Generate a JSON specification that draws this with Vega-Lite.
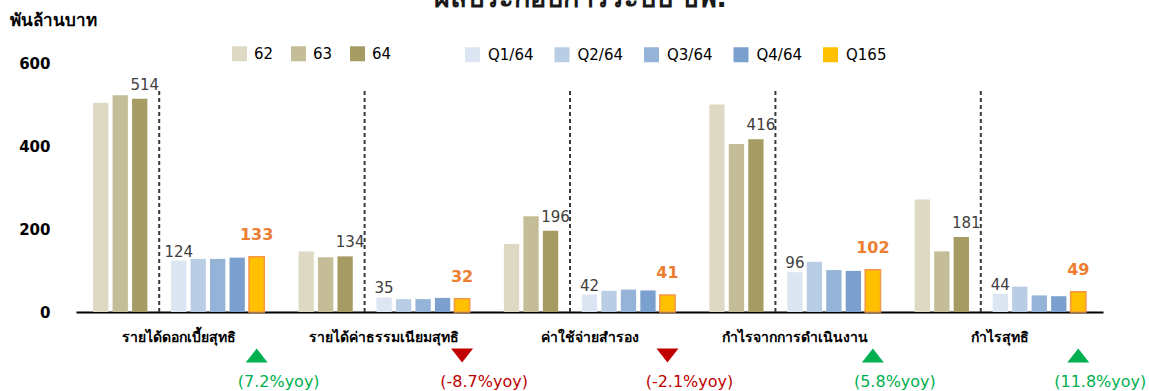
{
  "$schema": "https://vega.github.io/schema/vega-lite/v6.json",
  "width": 1027,
  "height": 249,
  "autosize": {"type": "none"},
  "padding": {"left": 76, "top": 63, "right": 46, "bottom": 79},
  "background": "white",
  "config": {
    "view": {"stroke": null},
    "font": "Tahoma, DejaVu Sans, sans-serif",
    "text": {"font": "Tahoma, DejaVu Sans, sans-serif"}
  },
  "title": {
    "text": "ผลประกอบการระบบ ธพ.",
    "anchor": "middle",
    "fontSize": 27,
    "fontWeight": "bold",
    "color": "#1a1a1a",
    "offset": 2,
    "dx": -9,
    "dy": 4
  },
  "datasets": {
    "finance": [
      {"item": "รายได้ดอกเบี้ยสุทธิ", "period": "62", "value": 504},
      {"item": "รายได้ดอกเบี้ยสุทธิ", "period": "63", "value": 522},
      {"item": "รายได้ดอกเบี้ยสุทธิ", "period": "64", "value": 514},
      {"item": "รายได้ดอกเบี้ยสุทธิ", "period": "Q1/64", "value": 124},
      {"item": "รายได้ดอกเบี้ยสุทธิ", "period": "Q2/64", "value": 128},
      {"item": "รายได้ดอกเบี้ยสุทธิ", "period": "Q3/64", "value": 128},
      {"item": "รายได้ดอกเบี้ยสุทธิ", "period": "Q4/64", "value": 131},
      {"item": "รายได้ดอกเบี้ยสุทธิ", "period": "Q165", "value": 133},
      {"item": "รายได้ค่าธรรมเนียมสุทธิ", "period": "62", "value": 146},
      {"item": "รายได้ค่าธรรมเนียมสุทธิ", "period": "63", "value": 132},
      {"item": "รายได้ค่าธรรมเนียมสุทธิ", "period": "64", "value": 134},
      {"item": "รายได้ค่าธรรมเนียมสุทธิ", "period": "Q1/64", "value": 35},
      {"item": "รายได้ค่าธรรมเนียมสุทธิ", "period": "Q2/64", "value": 31},
      {"item": "รายได้ค่าธรรมเนียมสุทธิ", "period": "Q3/64", "value": 31},
      {"item": "รายได้ค่าธรรมเนียมสุทธิ", "period": "Q4/64", "value": 34},
      {"item": "รายได้ค่าธรรมเนียมสุทธิ", "period": "Q165", "value": 32},
      {"item": "ค่าใช้จ่ายสำรอง", "period": "62", "value": 164},
      {"item": "ค่าใช้จ่ายสำรอง", "period": "63", "value": 231},
      {"item": "ค่าใช้จ่ายสำรอง", "period": "64", "value": 196},
      {"item": "ค่าใช้จ่ายสำรอง", "period": "Q1/64", "value": 42},
      {"item": "ค่าใช้จ่ายสำรอง", "period": "Q2/64", "value": 51},
      {"item": "ค่าใช้จ่ายสำรอง", "period": "Q3/64", "value": 54},
      {"item": "ค่าใช้จ่ายสำรอง", "period": "Q4/64", "value": 52},
      {"item": "ค่าใช้จ่ายสำรอง", "period": "Q165", "value": 41},
      {"item": "กำไรจากการดำเนินงาน", "period": "62", "value": 500},
      {"item": "กำไรจากการดำเนินงาน", "period": "63", "value": 405},
      {"item": "กำไรจากการดำเนินงาน", "period": "64", "value": 416},
      {"item": "กำไรจากการดำเนินงาน", "period": "Q1/64", "value": 96},
      {"item": "กำไรจากการดำเนินงาน", "period": "Q2/64", "value": 121},
      {"item": "กำไรจากการดำเนินงาน", "period": "Q3/64", "value": 101},
      {"item": "กำไรจากการดำเนินงาน", "period": "Q4/64", "value": 99},
      {"item": "กำไรจากการดำเนินงาน", "period": "Q165", "value": 102},
      {"item": "กำไรสุทธิ", "period": "62", "value": 271},
      {"item": "กำไรสุทธิ", "period": "63", "value": 146},
      {"item": "กำไรสุทธิ", "period": "64", "value": 181},
      {"item": "กำไรสุทธิ", "period": "Q1/64", "value": 44},
      {"item": "กำไรสุทธิ", "period": "Q2/64", "value": 61},
      {"item": "กำไรสุทธิ", "period": "Q3/64", "value": 40},
      {"item": "กำไรสุทธิ", "period": "Q4/64", "value": 38},
      {"item": "กำไรสุทธิ", "period": "Q165", "value": 49}
    ],
    "growth": [
      {"item": "รายได้ดอกเบี้ยสุทธิ", "yoy": 7.2, "label": "(7.2%yoy)"},
      {"item": "รายได้ค่าธรรมเนียมสุทธิ", "yoy": -8.7, "label": "(-8.7%yoy)"},
      {"item": "ค่าใช้จ่ายสำรอง", "yoy": -2.1, "label": "(-2.1%yoy)"},
      {"item": "กำไรจากการดำเนินงาน", "yoy": 5.8, "label": "(5.8%yoy)"},
      {"item": "กำไรสุทธิ", "yoy": 11.8, "label": "(11.8%yoy)"}
    ]
  },
  "data": {"name": "finance"},
  "layer": [
    {
      "transform": [{"filter": {"field": "period", "oneOf": ["62", "63", "64"]}}],
      "mark": {"type": "bar"},
      "encoding": {
        "x": {
          "field": "item", "type": "nominal", "sort": null,
          "scale": {"paddingInner": 0.1664, "paddingOuter": 0.0832},
          "axis": {
            "title": null, "labelAngle": 0, "ticks": false,
            "domainColor": "#000000", "domainWidth": 2,
            "labelFontSize": 14, "labelFontWeight": "bold", "labelColor": "#000000",
            "labelPadding": 18, "labelBaseline": "top"
          }
        },
        "xOffset": {
          "field": "period", "type": "nominal",
          "scale": {"domain": ["62", "63", "64", "sep", "Q1/64", "Q2/64", "Q3/64", "Q4/64", "Q165"], "paddingInner": 0.215, "paddingOuter": 0}
        },
        "y": {
          "field": "value", "type": "quantitative",
          "scale": {"domain": [0, 600], "nice": false},
          "axis": {
            "values": [0, 200, 400, 600], "domain": false, "ticks": false, "grid": false,
            "labelFontSize": 15, "labelFontWeight": "bold", "labelColor": "#000000", "labelPadding": 26,
            "title": "พันล้านบาท", "titleAngle": 0, "titleAlign": "left", "titleBaseline": "alphabetic",
            "titleX": -67, "titleY": -38, "titleFontSize": 17, "titleFontWeight": "bold", "titleColor": "#000000"
          }
        },
        "color": {
          "field": "period", "type": "nominal",
          "scale": {"domain": ["62", "63", "64"], "range": ["#DDD9C3", "#C4BD97", "#A69B63"]},
          "legend": {
            "title": null, "orient": "none", "direction": "horizontal",
            "legendX": 156, "legendY": -17,
            "symbolType": "square", "symbolSize": 225, "symbolStrokeWidth": 0,
            "labelFontSize": 15, "labelColor": "#000000", "labelOffset": 7, "columnPadding": 17
          }
        }
      }
    },
    {
      "transform": [{"filter": {"field": "period", "oneOf": ["Q1/64", "Q2/64", "Q3/64", "Q4/64", "Q165"]}}],
      "mark": {"type": "bar", "strokeWidth": 1.5},
      "encoding": {
        "x": {"field": "item", "type": "nominal", "sort": null},
        "xOffset": {"field": "period", "type": "nominal", "scale": {"domain": ["62", "63", "64", "sep", "Q1/64", "Q2/64", "Q3/64", "Q4/64", "Q165"]}},
        "y": {"field": "value", "type": "quantitative"},
        "color": {
          "field": "period", "type": "nominal",
          "scale": {"domain": ["Q1/64", "Q2/64", "Q3/64", "Q4/64", "Q165"], "range": ["#DCE6F2", "#B9CDE5", "#95B3D7", "#7BA0CD", "#FFC000"]},
          "legend": {
            "title": null, "orient": "none", "direction": "horizontal",
            "legendX": 388, "legendY": -17,
            "symbolType": "square", "symbolSize": 225, "symbolStrokeWidth": 1.5,
            "labelFontSize": 15, "labelColor": "#000000", "labelOffset": 7, "columnPadding": 19.5,
            "encode": {"symbols": {"update": {"stroke": {"signal": "datum.value === 'Q165' ? '#F79646' : 'transparent'"}}}}
          }
        },
        "stroke": {"condition": {"test": "datum.period === 'Q165'", "value": "#F79646"}, "value": null}
      }
    },
    {
      "transform": [{"filter": {"field": "period", "equal": "64"}}],
      "mark": {"type": "rule", "color": "#3a3a3a", "strokeWidth": 2, "strokeDash": [4, 3]},
      "encoding": {
        "x": {"field": "item", "type": "nominal", "sort": null},
        "xOffset": {"datum": "sep", "scale": {"domain": ["62", "63", "64", "sep", "Q1/64", "Q2/64", "Q3/64", "Q4/64", "Q165"]}},
        "y": {"datum": 0, "type": "quantitative"},
        "y2": {"datum": 535}
      }
    },
    {
      "transform": [{"filter": {"field": "period", "equal": "64"}}],
      "mark": {"type": "text", "fontSize": 15, "color": "#404040", "dx": 5, "dy": -9, "baseline": "alphabetic"},
      "encoding": {
        "x": {"field": "item", "type": "nominal", "sort": null},
        "xOffset": {"field": "period", "type": "nominal", "scale": {"domain": ["62", "63", "64", "sep", "Q1/64", "Q2/64", "Q3/64", "Q4/64", "Q165"]}},
        "y": {"field": "value", "type": "quantitative"},
        "text": {"field": "value", "type": "quantitative"}
      }
    },
    {
      "transform": [{"filter": {"field": "period", "equal": "Q1/64"}}],
      "mark": {"type": "text", "fontSize": 15, "color": "#404040", "dy": -4, "baseline": "alphabetic"},
      "encoding": {
        "x": {"field": "item", "type": "nominal", "sort": null},
        "xOffset": {"field": "period", "type": "nominal", "scale": {"domain": ["62", "63", "64", "sep", "Q1/64", "Q2/64", "Q3/64", "Q4/64", "Q165"]}},
        "y": {"field": "value", "type": "quantitative"},
        "text": {"field": "value", "type": "quantitative"}
      }
    },
    {
      "transform": [{"filter": {"field": "period", "equal": "Q165"}}],
      "mark": {"type": "text", "fontSize": 16, "fontWeight": "bold", "color": "#ED7D31", "dy": -17, "baseline": "alphabetic"},
      "encoding": {
        "x": {"field": "item", "type": "nominal", "sort": null},
        "xOffset": {"field": "period", "type": "nominal", "scale": {"domain": ["62", "63", "64", "sep", "Q1/64", "Q2/64", "Q3/64", "Q4/64", "Q165"]}},
        "y": {"field": "value", "type": "quantitative"},
        "text": {"field": "value", "type": "quantitative"}
      }
    },
    {
      "data": {"name": "growth"},
      "mark": {"type": "point", "filled": true, "opacity": 1, "size": 484, "strokeWidth": 0},
      "encoding": {
        "x": {"field": "item", "type": "nominal", "sort": null},
        "xOffset": {"datum": "Q165", "scale": {"domain": ["62", "63", "64", "sep", "Q1/64", "Q2/64", "Q3/64", "Q4/64", "Q165"]}},
        "y": {"datum": -105, "type": "quantitative"},
        "shape": {"condition": {"test": "datum.yoy >= 0", "value": "M0,-0.64L1,0.64L-1,0.64Z"}, "value": "M0,0.64L1,-0.64L-1,-0.64Z"},
        "fill": {"condition": {"test": "datum.yoy >= 0", "value": "#00B050"}, "value": "#C00000"}
      }
    },
    {
      "data": {"name": "growth"},
      "mark": {"type": "text", "fontSize": 16, "dx": 22, "baseline": "alphabetic"},
      "encoding": {
        "x": {"field": "item", "type": "nominal", "sort": null},
        "xOffset": {"datum": "Q165", "scale": {"domain": ["62", "63", "64", "sep", "Q1/64", "Q2/64", "Q3/64", "Q4/64", "Q165"]}},
        "y": {"datum": -180, "type": "quantitative"},
        "text": {"field": "label", "type": "nominal"},
        "color": {"condition": {"test": "datum.yoy >= 0", "value": "#00B050"}, "value": "#C00000"}
      }
    }
  ],
  "resolve": {"scale": {"color": "independent"}, "legend": {"color": "independent"}}
}
